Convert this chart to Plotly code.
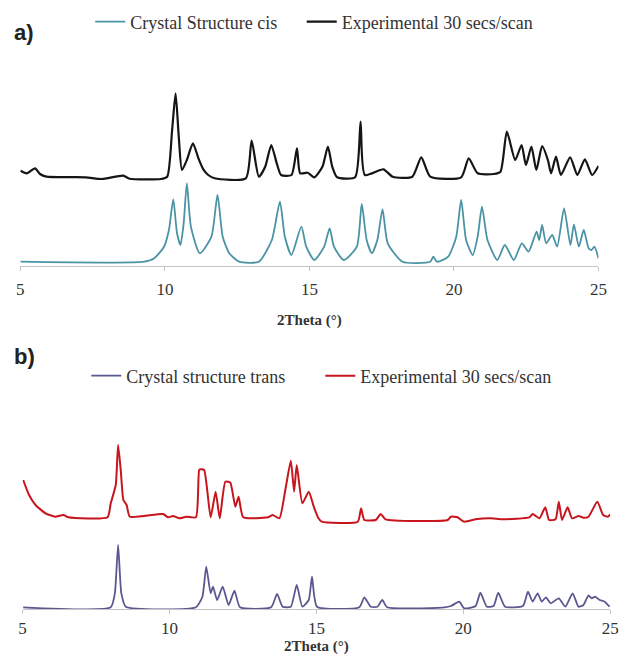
import plotly.graph_objects as go

# ---------------- Panel a (cis) ----------------
cis_x = [5.00, 9.29, 9.63, 9.97, 10.14, 10.29, 10.42, 10.54, 10.65, 10.76, 10.90, 11.21, 11.61, 11.82, 12.00,
         12.23, 12.57, 13.25, 13.70, 13.98, 14.15, 14.38, 14.72, 14.89, 15.17, 15.51, 15.70, 15.85, 16.19,
         16.64, 16.81, 16.98, 17.16, 17.35, 17.53, 17.71, 18.22, 19.18, 19.29, 19.41, 19.80, 20.08, 20.25,
         20.42, 20.65, 20.82, 20.97, 21.16, 21.50, 21.76, 22.07, 22.35, 22.58, 22.86, 22.95, 23.05, 23.19,
         23.40, 23.57, 23.81, 24.03, 24.15, 24.32, 24.49, 24.66, 24.76, 24.86, 25.00]
cis_y = [4.3, 4.3, 7.7, 19.3, 36, 66.7, 32.7, 21, 42.7, 82.7, 39.3, 12.7, 29.3, 71, 29.3,
         12.7, 4.3, 4.3, 26, 64.3, 29.3, 11, 39.3, 19.3, 6, 19.3, 37.7, 19.3, 6,
         19.3, 62, 26, 12.7, 26, 56.7, 22.7, 4.3, 4.3, 9.3, 4.3, 9.3, 29.3, 66,
         26, 11, 29.3, 59.3, 26, 6, 21, 6, 22.7, 14.3, 34.3, 26, 41, 22.7,
         31, 19.3, 57.7, 21, 41.7, 19.3, 36, 17.7, 16, 19.3, 7.7]

exp_a_x = [5.00, 5.22, 5.51, 5.68, 5.90, 7.26, 7.82, 8.56, 8.78, 9.86, 10.08, 10.25, 10.37, 10.48, 10.59,
           10.76, 10.97, 11.16, 11.33, 11.50, 11.72, 12.80, 13.00, 13.25, 13.47, 13.68, 13.87, 14.02, 14.38,
           14.57, 14.68, 14.94, 15.17, 15.45, 15.64, 15.79, 15.96, 16.58, 16.77, 16.92, 17.56, 17.88, 18.56,
           18.87, 19.18, 20.25, 20.51, 20.82, 21.38, 21.61, 21.83, 22.12, 22.34, 22.49, 22.68, 22.85, 23.05,
           23.25, 23.36, 23.53, 23.70, 24.02, 24.27, 24.53, 24.78, 25.00]
exp_a_y = [95.3, 92.7, 97.7, 92, 89.3, 88.7, 87, 90.3, 87.3, 87, 89.3, 136, 172.7, 129.3, 96,
           106, 122.7, 107.7, 96.7, 91, 87.7, 87.7, 125.3, 89.3, 99.3, 121, 102.7, 91, 91,
           117.7, 92.7, 93.3, 88.7, 99.3, 119.3, 99.3, 88.7, 88.7, 144.3, 91, 96.7, 89.3, 89.3,
           108.7, 89.3, 88.7, 107.7, 92.7, 92, 94.3, 134.3, 106, 121, 101, 119.3, 96, 120,
           106, 92.7, 109.3, 91, 108.7, 91, 106.7, 91, 100]

# ---------------- Panel b (trans) ----------------
trans_x = [5.02, 8.00, 8.14, 8.25, 8.36, 8.51, 10.90, 11.12, 11.25, 11.40, 11.48, 11.62, 11.81, 12.01, 12.21,
           12.40, 13.46, 13.66, 13.85, 14.13, 14.33, 14.52, 14.74, 14.85, 15.02, 16.46, 16.63, 16.85, 17.08,
           17.24, 17.41, 19.36, 19.58, 19.86, 20.03, 20.42, 20.58, 20.80, 21.03, 21.19, 21.42, 22.03, 22.20,
           22.36, 22.53, 22.67, 22.81, 22.97, 23.25, 23.47, 23.72, 23.92, 24.09, 24.26, 24.37, 24.48, 24.64,
           24.81, 24.98]
trans_y = [1.7, 1.7, 15.7, 64, 15.7, 2.3, 1.7, 12.3, 42.3, 15.7, 22.3, 9, 22.3, 4, 18.3,
           1.7, 1.7, 15, 2.3, 2.3, 24, 2.3, 9, 32.3, 2.3, 1.7, 11.7, 2.3, 2.3,
           9, 1.7, 1.7, 3, 7.3, 0.7, 3, 16.3, 2.3, 3, 16.3, 2.3, 3, 17.3,
           7.3, 15.7, 7.3, 11.7, 5.7, 10.7, 2.3, 15.7, 2.3, 4, 13.7, 10.7, 12.3, 9,
           7.3, 2.3]

exp_b_x = [5.02, 5.22, 5.44, 5.78, 6.11, 6.39, 6.56, 7.89, 8.00, 8.17, 8.25, 8.34, 8.43, 8.54, 8.65,
           9.78, 9.95, 10.12, 10.34, 10.57, 10.90, 11.01, 11.07, 11.18, 11.40, 11.57, 11.71, 11.90, 12.07,
           12.24, 12.35, 12.51, 13.35, 13.51, 13.74, 13.96, 14.13, 14.24, 14.33, 14.52, 14.74, 14.91, 15.07,
           15.18, 16.41, 16.52, 16.63, 17.02, 17.19, 17.35, 19.47, 19.58, 19.80, 20.03, 20.47, 20.92, 21.36,
           22.25, 22.36, 22.59, 22.79, 22.92, 23.14, 23.25, 23.36, 23.55, 23.70, 23.92, 24.09, 24.26, 24.56,
           24.76, 24.92, 25.00]
exp_b_y = [129, 114, 104, 95.7, 92.3, 94, 91.7, 91.7, 105.7, 124, 164, 139, 109, 104, 92.3,
           95, 91.7, 93, 90.7, 92.3, 91.7, 139, 139.7, 139, 91.7, 117.3, 90.7, 127.3, 126.3,
           102.3, 112.3, 91.7, 91.7, 94, 90.7, 122.3, 148.3, 117.3, 144, 105.7, 117.3, 102.3, 90.7,
           87.3, 87.3, 100.7, 89, 89, 95, 89.7, 89, 92.3, 91.7, 87.3, 90, 90.7, 89.7,
           91.7, 95, 90.7, 101.7, 89, 89.7, 107.3, 89, 101.7, 90.7, 93, 91.3, 92.3, 107.3,
           94, 92.3, 94.7]

x_ticks = [5, 10, 15, 20, 25]
x_title = "2Theta (°)"

W, H = 630, 663
SERIF = "Liberation Serif"


def xaxis_style(domain, anchor, label_standoff, title_standoff):
    return dict(domain=domain, anchor=anchor, range=[5, 25], tickvals=x_ticks,
                showgrid=False, zeroline=False, showline=True, linecolor="#c4c4c4", linewidth=1,
                ticks="outside", ticklen=4, tickcolor="#c4c4c4",
                tickfont=dict(family=SERIF, size=17, color="#333"),
                ticklabelstandoff=label_standoff,
                title=dict(text="<b>" + x_title + "</b>", standoff=title_standoff,
                           font=dict(family=SERIF, size=15, color="#333")))


def legend_at(xpx, ypx):
    return dict(orientation="h", x=xpx / W, y=1 - ypx / H, xanchor="left", yanchor="middle",
                font=dict(family=SERIF, size=18, color="#333"), bgcolor="rgba(0,0,0,0)")


fig = go.Figure()
fig.add_trace(go.Scatter(x=cis_x, y=cis_y, mode="lines", name="Crystal Structure cis", showlegend=True,
                         line=dict(color="#4a93a5", width=1.8, shape="spline", smoothing=0.6),
                         xaxis="x", yaxis="y", legend="legend"))
fig.add_trace(go.Scatter(x=exp_a_x, y=exp_a_y, mode="lines", name="Experimental 30 secs/scan", showlegend=True,
                         line=dict(color="#151515", width=2.2, shape="spline", smoothing=0.6),
                         xaxis="x", yaxis="y", legend="legend2"))
fig.add_trace(go.Scatter(x=trans_x, y=trans_y, mode="lines", name="Crystal structure trans", showlegend=True,
                         line=dict(color="#5a5890", width=1.8, shape="spline", smoothing=0.5),
                         xaxis="x2", yaxis="y2", legend="legend3"))
fig.add_trace(go.Scatter(x=exp_b_x, y=exp_b_y, mode="lines", name="Experimental 30 secs/scan", showlegend=True,
                         line=dict(color="#c8141c", width=2.0, shape="spline", smoothing=0.5),
                         xaxis="x2", yaxis="y2", legend="legend4"))

fig.update_layout(
    width=W, height=H, margin=dict(l=0, r=0, t=0, b=0),
    paper_bgcolor="white", plot_bgcolor="white", showlegend=True,
    xaxis=xaxis_style([16.7 / W, 607 / W], "y", 4, 16),
    yaxis=dict(domain=[1 - 266 / H, 1 - 80 / H], range=[0, 186], visible=False),
    xaxis2=xaxis_style([19 / W, 619 / W], "y2", 0, 3),
    yaxis2=dict(domain=[1 - 609 / H, 1 - 429 / H], range=[0, 180], visible=False),
    legend=legend_at(88, 22),
    legend2=legend_at(304, 22),
    legend3=legend_at(84, 376),
    legend4=legend_at(323, 376),
    annotations=[
        dict(text="<b>a)</b>", x=8 / W, y=1 - 32 / H, xref="paper", yref="paper",
             xanchor="left", yanchor="middle", showarrow=False,
             font=dict(family="Liberation Sans", size=22, color="#222")),
        dict(text="<b>b)</b>", x=8 / W, y=1 - 356 / H, xref="paper", yref="paper",
             xanchor="left", yanchor="middle", showarrow=False,
             font=dict(family="Liberation Sans", size=22, color="#222")),
    ],
)

fig.write_html("out.html")
